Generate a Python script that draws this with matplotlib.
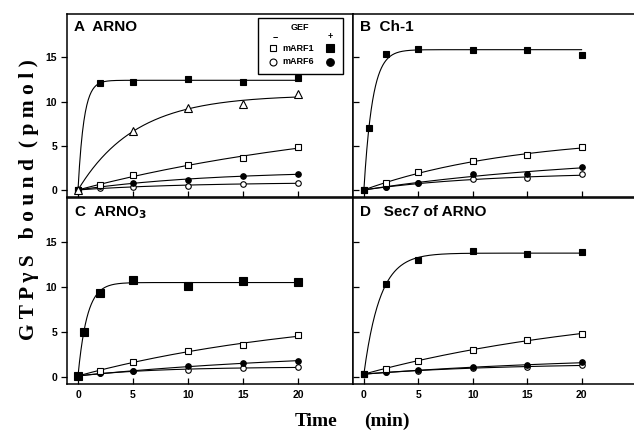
import numpy as np
import matplotlib
matplotlib.use('Agg')
import matplotlib.pyplot as plt

# time points (min)
time = [0, 2, 5, 10, 15, 20]
time_fast = [0, 0.5, 2, 5, 10, 15, 20]
time_tri = [0, 5, 10, 15, 20]

# A  ARNO
a_arf1_plus = [0, 12.1, 12.2, 12.5, 12.2, 12.7]
a_arf1_minus = [0, 0.6, 1.7, 2.8, 3.6, 4.85]
a_arf6_plus = [0, 0.4, 0.8, 1.15, 1.55, 1.8]
a_arf6_minus = [0, 0.2, 0.35, 0.5, 0.7, 0.75]
a_triangle = [0, 6.65, 9.3, 9.7, 10.8]

# B  Ch-1
b_arf1_plus = [0, 7.0, 15.4, 15.9, 15.85, 15.85, 15.3]
b_arf1_minus = [0, 0.75, 2.0, 3.25, 3.9, 4.85]
b_arf6_plus = [0, 0.35, 0.8, 1.75, 1.8, 2.6]
b_arf6_minus = [0, 0.3, 0.75, 1.25, 1.3, 1.75]

# C  ARNO3
c_arf1_plus = [0.1, 5.0, 9.3, 10.75, 10.1, 10.65, 10.6]
c_arf1_minus = [0.1, 0.7, 1.65, 2.9, 3.55, 4.6]
c_arf6_plus = [0.1, 0.45, 0.6, 1.15, 1.5, 1.8]
c_arf6_minus = [0.1, 0.45, 0.6, 0.8, 0.95, 1.1]

# D  Sec7 of ARNO
d_arf1_plus = [0.3, 10.3, 13.0, 13.95, 13.7, 13.85]
d_arf1_minus = [0.3, 0.9, 1.75, 3.0, 4.15, 4.75]
d_arf6_plus = [0.3, 0.55, 0.75, 1.05, 1.3, 1.6]
d_arf6_minus = [0.3, 0.55, 0.7, 0.95, 1.1, 1.3]

sans = 'Liberation Sans'
serif = 'Liberation Serif'


def fit_curve(t, y, kmax=2.0):
    # y = y0 + A*(1 - exp(-k t)), grid search on k, least squares on A
    t = np.asarray(t, float)
    y = np.asarray(y, float)
    y0 = y[0]
    best = None
    for k in np.logspace(-3, np.log10(kmax), 500):
        b = 1 - np.exp(-k * t)
        amp = np.sum(b * (y - y0)) / np.sum(b * b)
        sse = np.sum((y0 + amp * b - y) ** 2)
        if best is None or sse < best[0]:
            best = (sse, k, amp)
    tt = np.linspace(0, t[-1], 300)
    return tt, y0 + best[2] * (1 - np.exp(-best[1] * tt))


def series(ax, t, y, marker, filled, ms=4.5):
    tt, yy = fit_curve(t, y)
    ax.plot(tt, yy, color='black', lw=0.8, zorder=2)
    ax.plot(t, y, linestyle='none', marker=marker, ms=ms, mew=0.8,
            mec='black', mfc='black' if filled else 'white', zorder=3)


fig = plt.figure(figsize=(6.34, 4.33), dpi=100)
left_l, left_w = 67 / 634, 286 / 634
right_l, right_w = 353 / 634, 283 / 634
top_b, top_h = 1 - 197 / 433, 183 / 433
bot_b, bot_h = 1 - 384 / 433, 186 / 433

axA = fig.add_axes([left_l, top_b, left_w, top_h])
axB = fig.add_axes([right_l, top_b, right_w, top_h])
axC = fig.add_axes([left_l, bot_b, left_w, bot_h])
axD = fig.add_axes([right_l, bot_b, right_w, bot_h])

panels = [
    (axA, 'A  ARNO', time, a_arf1_plus, 4.5),
    (axB, 'B  Ch-1', time_fast, b_arf1_plus, 4.5),
    (axC, 'C  ARNO$_\\mathbf{3}$', time_fast, c_arf1_plus, 5.5),
    (axD, 'D   Sec7 of ARNO', time, d_arf1_plus, 4.5),
]
others = {
    axA: (a_arf1_minus, a_arf6_plus, a_arf6_minus),
    axB: (b_arf1_minus, b_arf6_plus, b_arf6_minus),
    axC: (c_arf1_minus, c_arf6_plus, c_arf6_minus),
    axD: (d_arf1_minus, d_arf6_plus, d_arf6_minus),
}

for ax, title, tplus, yplus, msz in panels:
    f1m, f6p, f6m = others[ax]
    series(ax, time, f6m, 'o', False, 4)
    series(ax, time, f6p, 'o', True, 4)
    series(ax, time, f1m, 's', False, 4.2)
    series(ax, tplus, yplus, 's', True, msz)
    ax.set_xlim(-1, 25)
    ax.set_ylim(-0.8, 19.9)
    ax.set_xticks([0, 5, 10, 15, 20])
    ax.set_yticks([0, 5, 10, 15])
    for s in ax.spines.values():
        s.set_linewidth(1.1)
    ax.tick_params(axis='x', direction='in', length=4, width=0.9, pad=4)
    ax.tick_params(axis='y', direction='in', length=4, width=0.9)
    ax.text(0.025, 0.965, title, transform=ax.transAxes, ha='left', va='top',
            fontsize=11, fontweight='bold', family=sans)
    for lab in ax.get_xticklabels() + ax.get_yticklabels():
        lab.set_fontsize(7.5)
        lab.set_fontweight('bold')
        lab.set_family(sans)

series(axA, time_tri, a_triangle, '^', False, 5.5)

for ax in (axA, axB):
    ax.tick_params(axis='x', labelbottom=False)
for ax in (axB, axD):
    ax.tick_params(axis='y', labelleft=False)
for ax in (axA, axC):
    ax.tick_params(axis='y', direction='out', length=4, pad=3)

# legend box in panel A
axA.add_patch(plt.Rectangle((0.668, 0.672), 0.297, 0.306, transform=axA.transAxes,
                            facecolor='white', edgecolor='black', lw=1.0, zorder=5))
lt = dict(transform=axA.transAxes, fontsize=6.5, fontweight='bold', family=sans, zorder=6)
axA.text(0.815, 0.928, 'GEF', ha='center', va='center', **lt)
axA.text(0.727, 0.878, '\u2212', ha='center', va='center', **lt)
axA.text(0.92, 0.878, '+', ha='center', va='center', **lt)
axA.text(0.752, 0.814, 'mARF1', ha='left', va='center', **lt)
axA.text(0.752, 0.738, 'mARF6', ha='left', va='center', **lt)
mk = dict(transform=axA.transAxes, linestyle='none', mec='black', mew=0.8, zorder=6, clip_on=False)
axA.plot([0.72], [0.814], marker='s', ms=5, mfc='white', **mk)
axA.plot([0.92], [0.814], marker='s', ms=5.5, mfc='black', **mk)
axA.plot([0.72], [0.738], marker='o', ms=5, mfc='white', **mk)
axA.plot([0.92], [0.738], marker='o', ms=5.5, mfc='black', **mk)

fig.text(29 / 634, 1 - 200 / 433, 'G T P \u03b3 S   b o u n d  ( p m o l )', rotation=90,
         ha='center', va='center', fontsize=15.5, fontweight='bold', family=serif)
fig.text(316 / 634, 1 - 421 / 433, 'Time', ha='center', va='center',
         fontsize=14, fontweight='bold', family=serif)
fig.text(387 / 634, 1 - 421 / 433, '(min)', ha='center', va='center',
         fontsize=14, fontweight='bold', family=serif)

fig.savefig('out.png', dpi=100)
